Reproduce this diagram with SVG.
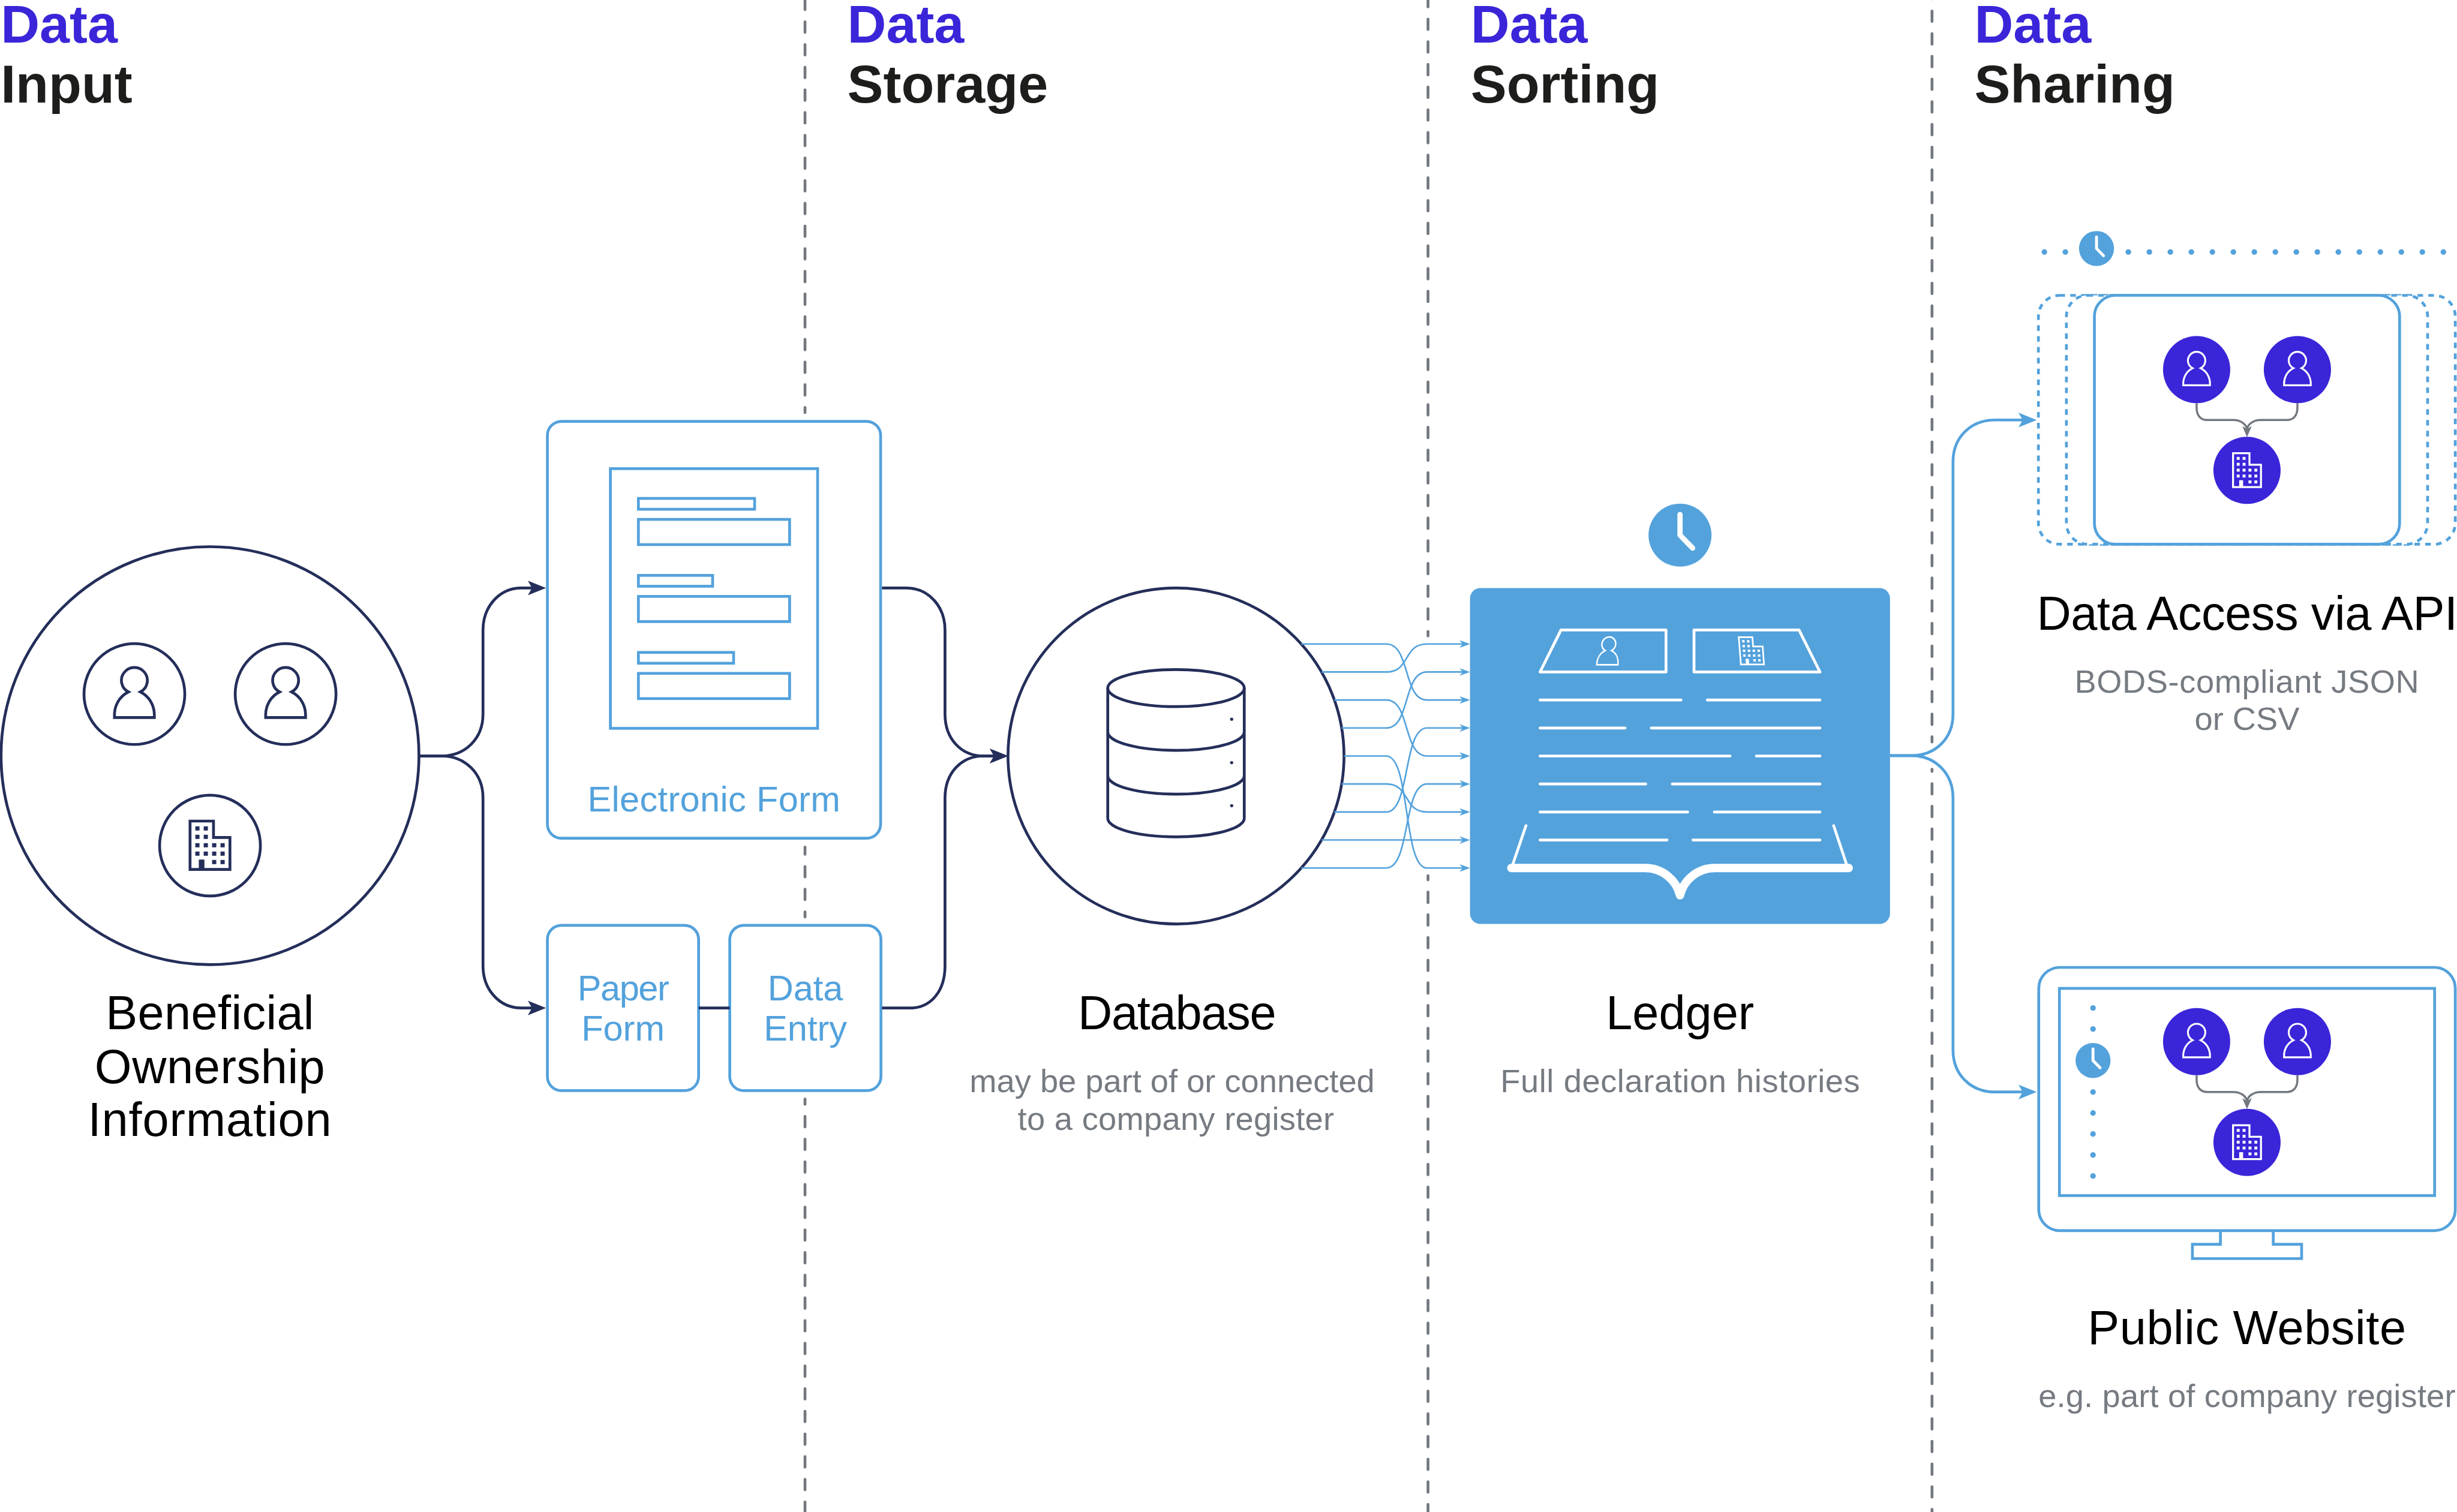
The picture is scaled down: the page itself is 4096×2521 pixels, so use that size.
<svg xmlns="http://www.w3.org/2000/svg" xmlns:xlink="http://www.w3.org/1999/xlink" width="4096" height="2521" viewBox="0 0 4096 2521">
<style>
text{font-family:"Liberation Sans",Arial,sans-serif}
.hd{font-size:154px;font-weight:700}
.hb{fill:#3a25d9}.hk{fill:#1d1d1b}
.lb{font-size:136px;fill:#000;text-anchor:middle}
.sb{font-size:93px;fill:#767b82;text-anchor:middle}
.bt{font-size:102px;fill:#53a2dc;text-anchor:middle}
.div{stroke:#73787f;stroke-width:8;stroke-linecap:round;stroke-dasharray:30 34.8;fill:none}
.bx{fill:#fff;stroke:#53a2dc;stroke-width:8}
.bo{fill:none;stroke:#53a2dc;stroke-width:8}
.ds{fill:#fff;stroke:#53a2dc;stroke-width:8;stroke-dasharray:16 15}
.nv{fill:#fff;stroke:#242e5a;stroke-width:8}
.nvo{fill:none;stroke:#242e5a;stroke-width:8}
.ic-navy{fill:none;stroke:#242e5a;color:#242e5a;stroke-width:8}
.ic-white{fill:none;stroke:#fff;color:#fff;stroke-width:8}
.ind{fill:#3a25d9}
.wl{fill:none;stroke:#fff;stroke-width:8;stroke-linecap:round}
.c-n{fill:none;stroke:#242e5a;stroke-width:8;marker-end:url(#an)}
.c-nn{fill:none;stroke:#242e5a;stroke-width:8}
.c-b{fill:none;stroke:#53a2dc;stroke-width:8;marker-end:url(#ab)}
.c-f{fill:none;stroke:#53a2dc;stroke-width:4.5;marker-end:url(#af)}
.c-g{fill:none;stroke:#73787f;stroke-width:6;marker-end:url(#ag)}
.dots{fill:none;stroke:#53a2dc;stroke-width:16;stroke-linecap:round;stroke-dasharray:0 60}
</style>
<defs>
<marker id="an" markerUnits="userSpaceOnUse" viewBox="-52 -21 52 42" refX="-20" refY="0" markerWidth="52" markerHeight="42" orient="auto"><path d="M0,0L-52,-21L-40,0L-52,21Z" fill="#242e5a"/></marker>
<marker id="ab" markerUnits="userSpaceOnUse" viewBox="-52 -21 52 42" refX="-20" refY="0" markerWidth="52" markerHeight="42" orient="auto"><path d="M0,0L-52,-21L-40,0L-52,21Z" fill="#53a2dc"/></marker>
<marker id="af" markerUnits="userSpaceOnUse" viewBox="-30 -11 30 22" refX="-14" refY="0" markerWidth="30" markerHeight="22" orient="auto"><path d="M0,0L-30,-11L-21,0L-30,11Z" fill="#53a2dc"/></marker>
<marker id="ag" markerUnits="userSpaceOnUse" viewBox="-30 -13 30 26" refX="-18" refY="0" markerWidth="30" markerHeight="26" orient="auto"><path d="M0,0L-30,-13L-22,0L-30,13Z" fill="#73787f"/></marker>
<g id="person"><path d="M-17,-6A37,37 0 1 1 17,-6C45,8 57,35 57,60V67H-57V60C-57,35 -45,8 -17,-6Z"/></g>
<g id="building"><path d="M-57,-70H10V-23H57V68H-57Z"/>
<g fill="currentColor" stroke="none"><rect x="-42" y="-55" width="12" height="12"/><rect x="-18" y="-55" width="12" height="12"/><rect x="-42" y="-31" width="12" height="12"/><rect x="-18" y="-31" width="12" height="12"/><rect x="-42" y="-7" width="12" height="12"/><rect x="-18" y="-7" width="12" height="12"/><rect x="6" y="-7" width="12" height="12"/><rect x="30" y="-7" width="12" height="12"/><rect x="-42" y="17" width="12" height="12"/><rect x="-18" y="17" width="12" height="12"/><rect x="6" y="17" width="12" height="12"/><rect x="30" y="17" width="12" height="12"/><rect x="6" y="41" width="12" height="12"/><rect x="30" y="41" width="12" height="12"/><rect x="-32" y="40" width="16" height="28"/></g></g>
<g id="clock"><circle r="90" fill="#53a2dc"/><path d="M0,-59V0L36,37" fill="none" stroke="#fff" stroke-width="15" stroke-linecap="round" stroke-linejoin="round"/></g>
</defs>
<rect width="4096" height="2521" fill="#fff"/>
<g transform="scale(0.58348 0.58356)">
<g id="dividers">
<line class="div" x1="2300" y1="-2.4" x2="2300" y2="1179"/>
<line class="div" x1="2300" y1="2420" x2="2300" y2="2620" stroke-dashoffset="9"/>
<line class="div" x1="2300" y1="3140" x2="2300" y2="4320" stroke-dashoffset="15"/>
<line class="div" x1="4080" y1="-10.4" x2="4080" y2="1817"/>
<line class="div" x1="4080" y1="2502" x2="4080" y2="4320" stroke-dashoffset="18"/>
<line class="div" x1="5520" y1="-33.4" x2="5520" y2="2120"/>
<line class="div" x1="5520" y1="2198" x2="5520" y2="4320" stroke-dashoffset="24"/>
</g>
<g id="headers">
<text class="hd hb" x="2" y="122">Data</text><text class="hd hk" x="2" y="293">Input</text>
<text class="hd hb" x="2421" y="122">Data</text><text class="hd hk" x="2421" y="293">Storage</text>
<text class="hd hb" x="4202" y="122">Data</text><text class="hd hk" x="4202" y="293">Sorting</text>
<text class="hd hb" x="5641" y="122">Data</text><text class="hd hk" x="5641" y="293">Sharing</text>
</g>
<g id="node-beneficial-ownership">
<circle class="nv" cx="600" cy="2159" r="597"/>
<circle class="nv" cx="384" cy="1983" r="144"/><circle class="nv" cx="816" cy="1983" r="144"/><circle class="nv" cx="600" cy="2416" r="144"/>
<use href="#person" class="ic-navy" transform="translate(384,1983)"/>
<use href="#person" class="ic-navy" transform="translate(816,1983)"/>
<use href="#building" class="ic-navy" transform="translate(600,2416)"/>
<text class="lb" x="600" y="2940" letter-spacing="0.6">Beneficial</text><text class="lb" x="600" y="3094" letter-spacing="1">Ownership</text><text class="lb" x="600" y="3246" letter-spacing="1.6">Information</text>
</g>
<g id="node-electronic-form">
<rect class="bx" x="1564" y="1204" width="952" height="1191" rx="40"/>
<rect class="bo" x="1744" y="1339" width="592" height="742"/>
<rect class="bo" x="1824" y="1424" width="332" height="31"/><rect class="bo" x="1824" y="1484" width="432" height="72"/>
<rect class="bo" x="1824" y="1644" width="212" height="31"/><rect class="bo" x="1824" y="1704" width="432" height="72"/>
<rect class="bo" x="1824" y="1864" width="272" height="31"/><rect class="bo" x="1824" y="1924" width="432" height="72"/>
<text class="bt" x="2040" y="2319" letter-spacing="0.6">Electronic Form</text>
</g>
<g id="node-paper-form">
<rect class="bx" x="1564" y="2644" width="432" height="472" rx="40"/>
<text class="bt" x="1780" y="2858" letter-spacing="-2.5">Paper</text><text class="bt" x="1780" y="2973">Form</text>
</g>
<g id="node-data-entry">
<rect class="bx" x="2085" y="2644" width="432" height="472" rx="40"/>
<text class="bt" x="2301" y="2858">Data</text><text class="bt" x="2301" y="2973">Entry</text>
</g>
<g id="node-database">
<circle class="nv" cx="3360" cy="2160" r="480"/>
<ellipse class="nvo" cx="3360" cy="1966" rx="195" ry="53"/>
<path class="nvo" d="M3165,1966V2338A195,53 0 0 0 3555,2338V1966M3165,2091A195,53 0 0 0 3555,2091M3165,2216A195,53 0 0 0 3555,2216"/>
<circle cx="3519" cy="2055" r="4.5" fill="#242e5a"/><circle cx="3519" cy="2179" r="4.5" fill="#242e5a"/><circle cx="3519" cy="2302" r="4.5" fill="#242e5a"/>
<text class="lb" x="3362" y="2940" letter-spacing="-2.2">Database</text>
<text class="sb" x="3349" y="3120">may be part of or connected</text><text class="sb" x="3360" y="3228" letter-spacing="0.5">to a company register</text>
</g>
<g id="node-ledger">
<use href="#clock" transform="translate(4800,1529)"/>
<rect x="4200" y="1680" width="1200" height="960" rx="30" fill="#53a2dc"/>
<path class="wl" stroke-linejoin="round" d="M4400,1920L4460,1800H4760V1920ZM4840,1800H5140L5200,1920H4840Z"/>
<use href="#person" class="ic-white" transform="matrix(.53 0 -.04 .556 4595 1862)"/>
<use href="#building" class="ic-white" transform="matrix(.58 0 .044 .565 5004 1860)"/>
<path class="wl" d="M4400,2000H4803M4878,2000H5200M4400,2080H4643M4718,2080H5200M4400,2160H4943M5018,2160H5200M4400,2240H4702M4778,2240H5200M4400,2320H4822M4898,2320H5200M4400,2400H4763M4837,2400H5200M4360,2359L4322,2470M5239,2359L5276,2470"/>
<path d="M4318,2480H4701C4750,2480 4790,2515 4800,2558C4810,2515 4850,2480 4899,2480H5282" fill="none" stroke="#fff" stroke-width="24" stroke-linecap="round" stroke-linejoin="round"/>
<text class="lb" x="4800" y="2940">Ledger</text>
<text class="sb" x="4801" y="3120" letter-spacing="1">Full declaration histories</text>
</g>
<g id="node-api">
<line class="dots" x1="5841" y1="720" x2="6985" y2="720"/>
<use href="#clock" transform="translate(5990,710) scale(.556)"/>
<rect class="ds" x="5824" y="844" width="1191" height="711" rx="60"/>
<rect class="ds" x="5904" y="844" width="1032" height="711" rx="60"/>
<rect class="bx" x="5984" y="844" width="872" height="711" rx="60"/>
<circle class="ind" cx="6276" cy="1056" r="96"/><circle class="ind" cx="6564" cy="1056" r="96"/><circle class="ind" cx="6420" cy="1344" r="96"/>
<use href="#person" class="ic-white" transform="translate(6276,1056) scale(.67)"/>
<use href="#person" class="ic-white" transform="translate(6564,1056) scale(.67)"/>
<use href="#building" class="ic-white" transform="translate(6420,1344) scale(.7)"/>
<text class="lb" x="6420" y="1800" letter-spacing="-0.8">Data Access via API</text>
<text class="sb" x="6420" y="1980" letter-spacing="1">BODS-compliant JSON</text><text class="sb" x="6420" y="2086">or CSV</text>
</g>
<g id="node-website">
<rect class="bx" x="5825" y="2764" width="1190" height="752" rx="60"/>
<rect class="bo" x="5884" y="2824" width="1072" height="592"/>
<path class="bo" d="M6344,3516V3555H6264V3596H6576V3555H6495V3516"/>
<line class="dots" x1="5980" y1="2880" x2="5980" y2="3365"/>
<use href="#clock" transform="translate(5980,3030) scale(.556)"/>
<circle class="ind" cx="6276" cy="2976" r="96"/><circle class="ind" cx="6564" cy="2976" r="96"/><circle class="ind" cx="6420" cy="3264" r="96"/>
<use href="#person" class="ic-white" transform="translate(6276,2976) scale(.67)"/>
<use href="#person" class="ic-white" transform="translate(6564,2976) scale(.67)"/>
<use href="#building" class="ic-white" transform="translate(6420,3264) scale(.7)"/>
<text class="lb" x="6420" y="3841" letter-spacing="1">Public Website</text>
<text class="sb" x="6420" y="4020" letter-spacing="0.3">e.g. part of company register</text>
</g>
<g id="connectors">
<path class="c-n" d="M1200,2160H1260C1330,2160 1380,2110 1380,2040V1800C1380,1735 1425,1680 1490,1680H1540"/>
<path class="c-n" d="M1200,2160H1260C1330,2160 1380,2210 1380,2280V2760C1380,2825 1425,2880 1490,2880H1540"/>
<path class="c-nn" d="M1996,2880H2085"/>
<path class="c-n" d="M2520,1680H2590C2655,1680 2700,1735 2700,1800V2040C2700,2110 2745,2160 2810,2160H2860"/>
<path class="c-n" d="M2520,2880H2600C2665,2880 2700,2825 2700,2760V2280C2700,2210 2745,2160 2810,2160H2860"/>
<path class="c-f" d="M3718,1840H3961C4030,1840 4008,2000 4077,2000H4186"/>
<path class="c-f" d="M3776,1920H3961C4030,1920 4008,1840 4077,1840H4186"/>
<path class="c-f" d="M3812,2000H3961C4030,2000 4008,2160 4077,2160H4186"/>
<path class="c-f" d="M3833,2080H3961C4030,2080 4008,1920 4077,1920H4186"/>
<path class="c-f" d="M3840,2160H3961C4030,2160 4008,2480 4077,2480H4186"/>
<path class="c-f" d="M3833,2240H3961C4030,2240 4008,2320 4077,2320H4186"/>
<path class="c-f" d="M3812,2320H3961C4030,2320 4008,2080 4077,2080H4186"/>
<path class="c-f" d="M3776,2400H4186"/>
<path class="c-f" d="M3718,2480H3961C4030,2480 4008,2240 4077,2240H4186"/>
<path class="c-b" d="M5400,2159H5460C5530,2159 5580,2110 5580,2040V1320C5580,1250 5630,1200 5700,1200H5799"/>
<path class="c-b" d="M5400,2159H5460C5530,2159 5580,2210 5580,2280V3000C5580,3070 5630,3120 5700,3120H5799"/>
<path class="c-g" d="M6276,1152V1165C6276,1188 6288,1200 6306,1200H6380C6402,1200 6420,1212 6420,1230"/>
<path class="c-g" d="M6564,1152V1165C6564,1188 6552,1200 6534,1200H6460C6438,1200 6420,1212 6420,1230"/>
<path class="c-g" d="M6276,3072V3085C6276,3108 6288,3120 6306,3120H6380C6402,3120 6420,3132 6420,3150"/>
<path class="c-g" d="M6564,3072V3085C6564,3108 6552,3120 6534,3120H6460C6438,3120 6420,3132 6420,3150"/>
</g>
</g>
</svg>
